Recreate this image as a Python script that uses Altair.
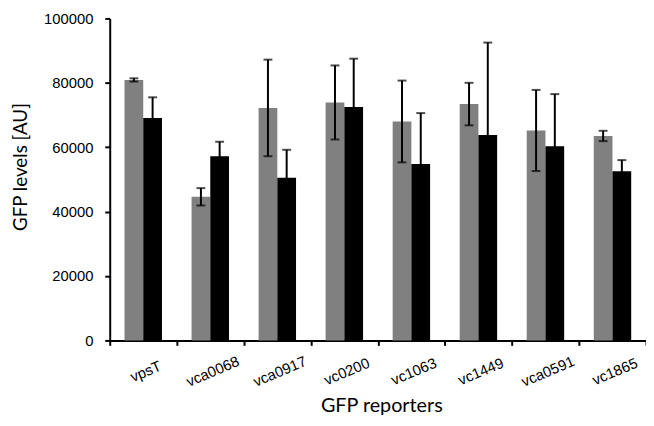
import altair as alt
import pandas as pd

categories = ["vpsT", "vca0068", "vca0917", "vc0200", "vc1063", "vc1449", "vca0591", "vc1865"]
gray_vals = [80900, 44600, 72200, 73900, 68000, 73400, 65200, 63500]
gray_err = [500, 2700, 15000, 11500, 12700, 6600, 12600, 1600]
black_vals = [69100, 57200, 50500, 72500, 54800, 63800, 60300, 52500]
black_err = [6400, 4500, 8700, 15000, 15800, 28700, 16200, 3500]
series = ["a", "b"]
colors = ["#808080", "#000000"]
y_ticks = [0, 20000, 40000, 60000, 80000, 100000]

rows = []
for i, c in enumerate(categories):
    for s, v, e in ((series[0], gray_vals[i], gray_err[i]), (series[1], black_vals[i], black_err[i])):
        rows.append({"cat": c, "series": s, "value": v, "lo": v - e, "hi": v + e})
df = pd.DataFrame(rows)

x_axis = alt.Axis(
    title="GFP reporters",
    labelAngle=-23,
    labelAlign="center",
    labelBaseline="middle",
    labelPadding=26,
    labelOffset=2,
    labelFont="Liberation Sans",
    labelFontSize=15,
    labelColor="#000000",
    tickBand="extent",
    tickSize=5,
    tickColor="#000000",
    tickWidth=2,
    domainColor="#000000",
    domainWidth=2,
    titleFont="Lato",
    titleFontSize=20,
    titleFontWeight="normal",
    titleColor="#000000",
    titleX=275,
    titleY=72,
    titleBaseline="alphabetic",
    titleAlign="center",
)
x = alt.X("cat:N", sort=categories, scale=alt.Scale(paddingInner=0, paddingOuter=0), axis=x_axis)
xoff = alt.XOffset("series:N", scale=alt.Scale(domain=series, paddingInner=0, paddingOuter=0.79))
y_axis = alt.Axis(
    title="GFP levels [AU]",
    values=y_ticks,
    format="d",
    grid=False,
    labelFont="Liberation Sans",
    labelFontSize=15,
    labelColor="#000000",
    labelPadding=12,
    tickSize=5,
    tickWidth=2,
    tickColor="#000000",
    domainColor="#000000",
    domainWidth=2,
    titleFont="Lato",
    titleFontSize=19,
    titleFontWeight="normal",
    titleColor="#000000",
    titleX=-80,
    titleY=150,
    titleAngle=270,
    titleAlign="center",
    titleBaseline="bottom",
)
yscale = alt.Scale(domain=[0, 100000], nice=False)

bars = alt.Chart(df).mark_bar().encode(
    x=x,
    xOffset=xoff,
    y=alt.Y("value:Q", scale=yscale, axis=y_axis),
    color=alt.Color("series:N", scale=alt.Scale(domain=series, range=colors), legend=None),
)
err = alt.Chart(df).mark_rule(color="#000000", strokeWidth=2).encode(
    x=x, xOffset=xoff, y=alt.Y("lo:Q", scale=yscale), y2="hi:Q"
)
cap_hi = alt.Chart(df).mark_tick(color="#000000", thickness=2, size=9).encode(
    x=x, xOffset=xoff, y=alt.Y("hi:Q", scale=yscale)
)
cap_lo = alt.Chart(df).mark_tick(color="#000000", thickness=2, size=9).encode(
    x=x, xOffset=xoff, y=alt.Y("lo:Q", scale=yscale)
)

chart = alt.layer(bars, err, cap_hi, cap_lo).properties(
    width=543,
    height=326,
    autosize=alt.AutoSizeParams(type="none"),
    padding={"left": 103, "top": 8, "right": 0, "bottom": 76},
).configure_view(stroke=None)

chart.save("out.html", embed_options={"renderer": "svg", "actions": False})
